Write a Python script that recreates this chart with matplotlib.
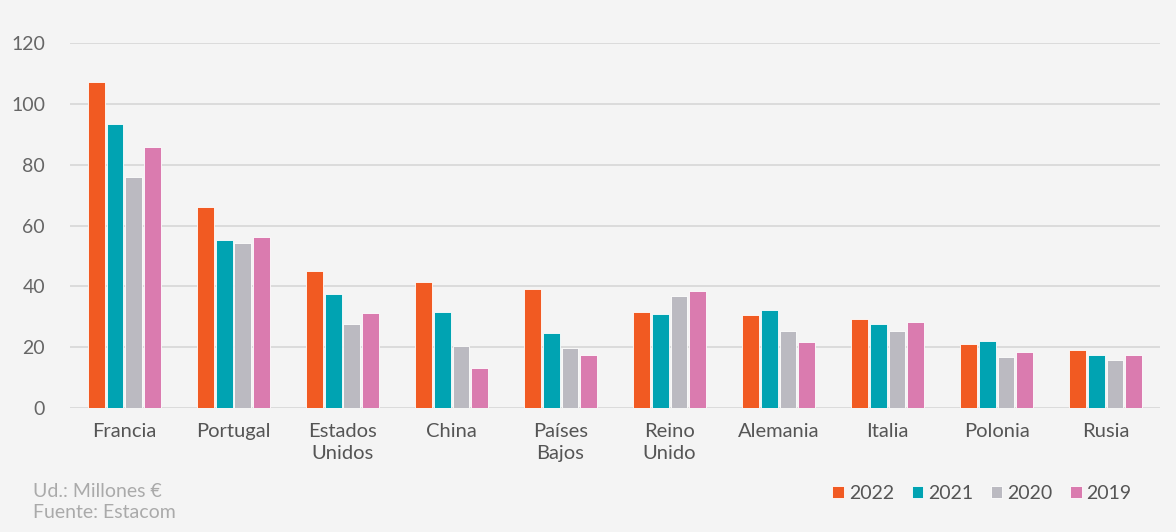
import numpy as np
import matplotlib.pyplot as plt

plt.rcParams['font.family'] = ['Lato', 'DejaVu Sans']

paises = ['Francia', 'Portugal', 'Estados\nUnidos', 'China', 'Países\nBajos',
          'Reino\nUnido', 'Alemania', 'Italia', 'Polonia', 'Rusia']
anios = ['2022', '2021', '2020', '2019']
v2022 = [107.2, 66.1, 45.0, 41.4, 39.0, 31.5, 30.6, 29.2, 21.2, 19.0]
v2021 = [93.4, 55.3, 37.5, 31.6, 24.8, 31.0, 32.3, 27.5, 22.0, 17.5]
v2020 = [76.0, 54.3, 27.6, 20.4, 19.8, 36.8, 25.2, 25.2, 16.7, 15.8]
v2019 = [85.9, 56.3, 31.2, 13.2, 17.5, 38.6, 21.6, 28.3, 18.4, 17.5]
colores = ['#F15A22', '#00A3B2', '#BBBAC1', '#DA7BAF']

bg = '#F4F4F4'
fig = plt.figure(figsize=(11.76, 5.32), dpi=100, facecolor=bg)
ax = fig.add_axes([0.0595, 0.233, 0.927, 0.686], facecolor=bg)

x = np.arange(len(paises))
ancho = 0.155
paso = 0.173
for i, (serie, anio) in enumerate(zip([v2022, v2021, v2020, v2019], anios)):
    ax.bar(x + (i - 1.5) * paso, serie, width=ancho, color=colores[i],
           edgecolor='white', linewidth=0.6, label=anio, zorder=3)

ax.set_xlim(-0.5, len(paises) - 0.5)
ax.set_ylim(0, 120)
ax.set_yticks(range(0, 121, 20))
ax.grid(axis='y', color='#D9D9D9', linewidth=1.3, zorder=0)
ax.set_xticks(x)
ax.set_xticklabels(paises, fontsize=14.5, color='#555555', linespacing=1.35)
ax.tick_params(axis='y', labelsize=14, labelcolor='#666666', length=0, pad=18)
ax.tick_params(axis='x', length=0, pad=11)
for s in ax.spines.values():
    s.set_visible(False)

ax.legend(loc='lower right', bbox_to_anchor=(0.99, -0.305), ncol=4, frameon=False,
          fontsize=14, handlelength=0.6, handleheight=0.6, handletextpad=0.25,
          columnspacing=0.9, labelcolor='#555555')

fig.text(0.028, 0.02, 'Ud.: Millones €\nFuente: Estacom', fontsize=14,
         color='#AAAAAA', linespacing=1.3, va='bottom', ha='left')

fig.savefig('out.png', dpi=100, facecolor=bg)
